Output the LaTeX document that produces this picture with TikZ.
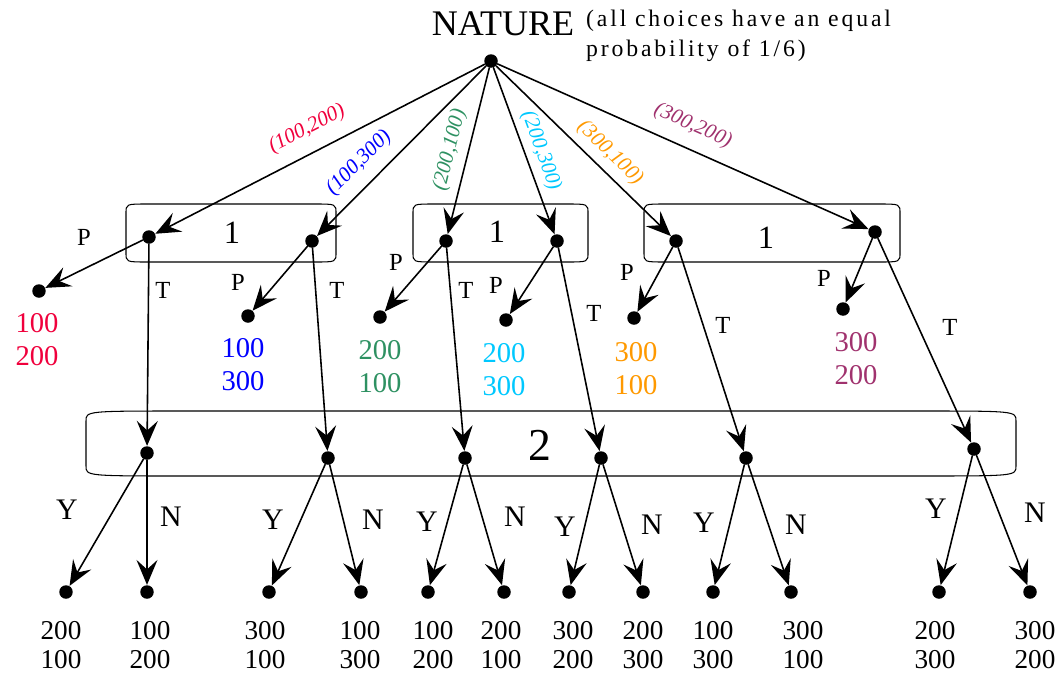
\documentclass[tikz,border=0pt]{standalone}
\usepackage{fontspec}
\setmainfont{Liberation Serif}
\newfontfamily\notefont[LetterSpace=12]{Liberation Serif}
\usetikzlibrary{arrows.meta}

\definecolor{offred}{RGB}{240,0,60}
\definecolor{offblue}{RGB}{0,0,255}
\definecolor{offgreen}{RGB}{46,145,98}
\definecolor{offcyan}{RGB}{0,200,255}
\definecolor{offorange}{RGB}{255,153,0}
\definecolor{offpurple}{RGB}{160,50,110}

\tikzset{
  dot/.style={circle,fill=black,inner sep=0pt,minimum size=0.27cm},
  edge/.style={->,line width=0.9pt},
  infoset/.style={line width=0.6pt},
  move/.style={font=\fontsize{14}{16}\selectfont},
  answer/.style={font=\fontsize{17}{19}\selectfont},
  offer/.style={font=\fontsize{12}{14}\selectfont\itshape},
  pay/.style={align=center,font=\fontsize{16.3}{18.7}\selectfont},
  endpay/.style={align=center,font=\fontsize{15.5}{16.4}\selectfont},
}

% box with flattened corners: x1 y1 x2 y2 rx ry
\newcommand{\infobox}[6]{%
  \draw[infoset] (#1,#2+#6) .. controls (#1,#2) .. (#1+#5,#2) -- (#3-#5,#2)
    .. controls (#3,#2) .. (#3,#2+#6) -- (#3,#4-#6)
    .. controls (#3,#4) .. (#3-#5,#4) -- (#1+#5,#4)
    .. controls (#1,#4) .. (#1,#4-#6) -- cycle;}

\begin{document}
\begin{tikzpicture}[line cap=round,line join=round,x=0.02cm,y=-0.02cm,
  >={Stealth[length=0.5cm,width=0.42cm,inset=0.19cm]}]
\useasboundingbox (0,0) rectangle (1062,673);

% information sets
\infobox{126}{204}{336}{262}{22}{9}
\infobox{413}{204}{588}{262}{22}{9}
\infobox{644}{204}{900}{262}{22}{9}
\infobox{86}{411}{1016}{476}{100}{10}
\node[font=\fontsize{18.5}{20}\selectfont] (one1) at (232,233) {1};
\node[font=\fontsize{18.5}{20}\selectfont] (one2) at (497,232) {1};
\node[font=\fontsize{18.5}{20}\selectfont] (one3) at (766,238) {1};
\node[font=\fontsize{26}{28}\selectfont] (two) at (540,445) {2};

% nature
\node[dot] (r) at (491,61) {};
\node[font=\fontsize{20.5}{22}\selectfont] (nature) at (503,24) {NATURE};
\node[anchor=west,align=left,font=\fontsize{13.5}{17}\notefont] (note) at (580,36)
  {(all choices have an equal\\probability of 1/6)};

% player 1 nodes
\node[dot] (a1) at (149,237) {};
\node[dot] (a2) at (312,241) {};
\node[dot] (a3) at (446,241) {};
\node[dot] (a4) at (557,241) {};
\node[dot] (a5) at (676,241) {};
\node[dot] (a6) at (875,232) {};

\draw [edge] (r) -- (a1);
\draw [edge] (r) -- (a2);
\draw [edge] (r) -- (a3);
\draw [edge] (r) -- (a4);
\draw [edge] (r) -- (a5);
\draw [edge] (r) -- (a6);

\node[offer,text=offred,rotate=27] (o1) at (307,129) {(100,200)};
\node[offer,text=offblue,rotate=45] (o2) at (359,163) {(100,300)};
\node[offer,text=offgreen,rotate=76] (o3) at (450,150) {(200,100)};
\node[offer,text=offcyan,rotate=-70] (o4) at (541,151) {(200,300)};
\node[offer,text=offorange,rotate=-44] (o5) at (610,153) {(300,100)};
\node[offer,text=offpurple,rotate=-24] (o6) at (693,126) {(300,200)};

% P: publish, ends
\node[dot] (p1) at (39,291) {};
\node[dot] (p2) at (248,316) {};
\node[dot] (p3) at (380,317) {};
\node[dot] (p4) at (506,320) {};
\node[dot] (p5) at (634,318) {};
\node[dot] (p6) at (843,309) {};

\draw [edge] (a1) -- (p1);
\draw [edge] (a2) -- (p2);
\draw [edge] (a3) -- (p3);
\draw [edge] (a4) -- (p4);
\draw [edge] (a5) -- (p5);
\draw [edge] (a6) -- (p6);

\node[pay,text=offred] (v1) at (37,340) {100\\200};
\node[pay,text=offblue] (v2) at (243,365) {100\\300};
\node[pay,text=offgreen] (v3) at (380,367) {200\\100};
\node[pay,text=offcyan] (v4) at (504,370) {200\\300};
\node[pay,text=offorange] (v5) at (636,369) {300\\100};
\node[pay,text=offpurple] (v6) at (856,359) {300\\200};

% player 2 nodes
\node[dot] (b1) at (147,453) {};
\node[dot] (b2) at (328,458) {};
\node[dot] (b3) at (465,458) {};
\node[dot] (b4) at (601,458) {};
\node[dot] (b5) at (746,458) {};
\node[dot] (b6) at (974,449) {};

\draw [edge] (a1) -- (b1);
\draw [edge] (a2) -- (b2);
\draw [edge] (a3) -- (b3);
\draw [edge] (a4) -- (b4);
\draw [edge] (a5) -- (b5);
\draw [edge] (a6) -- (b6);

\node[move] (P1) at (84,237) {P};  \node[move] (T1) at (163,290) {T};
\node[move] (P2) at (238,282) {P}; \node[move] (T2) at (337,290) {T};
\node[move] (P3) at (396,262) {P}; \node[move] (T3) at (466,290) {T};
\node[move] (P4) at (496,285) {P}; \node[move] (T4) at (594,313) {T};
\node[move] (P5) at (627,272) {P}; \node[move] (T5) at (723,325) {T};
\node[move] (P6) at (824,278) {P}; \node[move] (T6) at (950,327) {T};

% Y / N ends
\node[dot] (y1) at (66,592) {};   \node[dot] (n1) at (147,592) {};
\node[dot] (y2) at (269,592) {};  \node[dot] (n2) at (361,592) {};
\node[dot] (y3) at (428,592) {};  \node[dot] (n3) at (504,592) {};
\node[dot] (y4) at (569,592) {};  \node[dot] (n4) at (643,592) {};
\node[dot] (y5) at (713,592) {};  \node[dot] (n5) at (791,592) {};
\node[dot] (y6) at (939,592) {};  \node[dot] (n6) at (1030,592) {};

\draw [edge] (b1) -- (y1); \draw [edge] (b1) -- (n1);
\draw [edge] (b2) -- (y2); \draw [edge] (b2) -- (n2);
\draw [edge] (b3) -- (y3); \draw [edge] (b3) -- (n3);
\draw [edge] (b4) -- (y4); \draw [edge] (b4) -- (n4);
\draw [edge] (b5) -- (y5); \draw [edge] (b5) -- (n5);
\draw [edge] (b6) -- (y6); \draw [edge] (b6) -- (n6);

\node[answer] (Y1) at (67,510) {Y};  \node[answer] (N1) at (171,517) {N};
\node[answer] (Y2) at (273,520) {Y}; \node[answer] (N2) at (373,520) {N};
\node[answer] (Y3) at (427,522) {Y}; \node[answer] (N3) at (515,517) {N};
\node[answer] (Y4) at (565,527) {Y}; \node[answer] (N4) at (652,525) {N};
\node[answer] (Y5) at (704,523) {Y}; \node[answer] (N5) at (796,525) {N};
\node[answer] (Y6) at (936,509) {Y}; \node[answer] (N6) at (1035,513) {N};

\node[endpay] (w1) at (61,645) {200\\100};
\node[endpay] (w2) at (150,645) {100\\200};
\node[endpay] (w3) at (265,645) {300\\100};
\node[endpay] (w4) at (360,645) {100\\300};
\node[endpay] (w5) at (433,645) {100\\200};
\node[endpay] (w6) at (501,645) {200\\100};
\node[endpay] (w7) at (573,645) {300\\200};
\node[endpay] (w8) at (643,645) {200\\300};
\node[endpay] (w9) at (713,645) {100\\300};
\node[endpay] (w10) at (803,645) {300\\100};
\node[endpay] (w11) at (935,645) {200\\300};
\node[endpay] (w12) at (1035,645) {300\\200};
\end{tikzpicture}
\end{document}
